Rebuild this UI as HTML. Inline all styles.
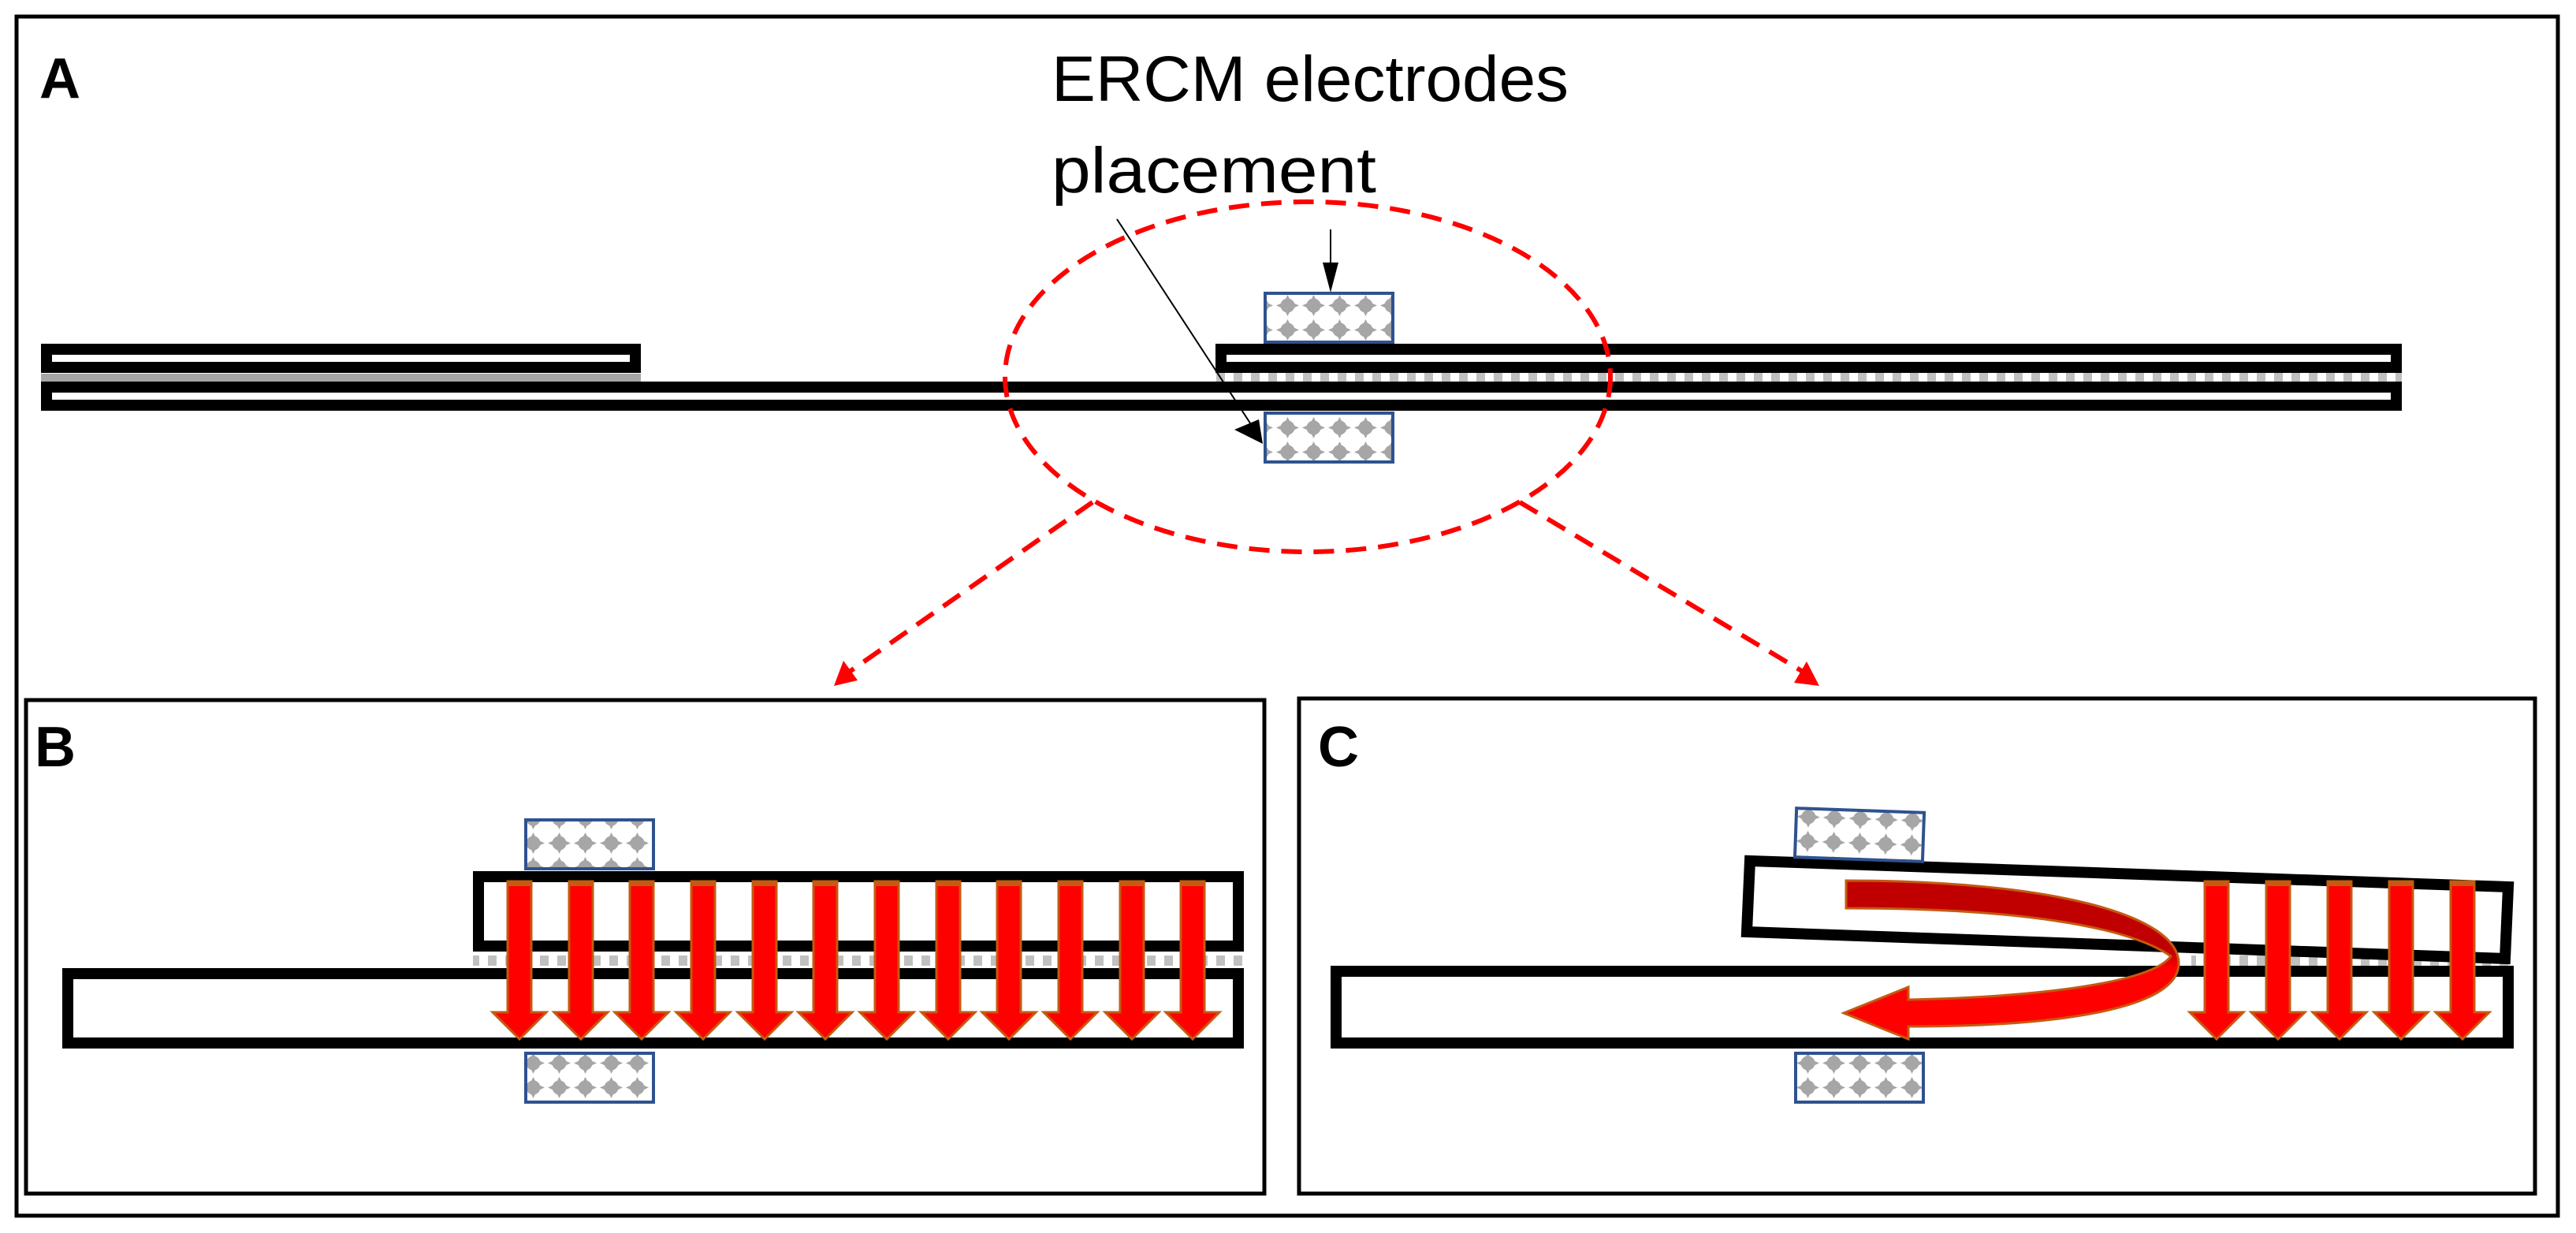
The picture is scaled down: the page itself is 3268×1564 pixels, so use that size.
<!DOCTYPE html>
<html><head><meta charset="utf-8"><style>html,body{margin:0;padding:0;background:#fff}svg{display:block}</style></head>
<body>
<svg xmlns="http://www.w3.org/2000/svg" width="3268" height="1564" viewBox="0 0 3268 1564">
<defs>
<pattern id="el" x="0" y="0" width="33" height="31" patternUnits="userSpaceOnUse">
<rect width="33" height="31" fill="#fff"/>
<path d="M16.5,2 L21,11 L31,15.5 L21,20 L16.5,29 L12,20 L2,15.5 L12,11 Z" fill="#a6a6a6"/>
<circle cx="16.5" cy="15.5" r="9" fill="#a6a6a6"/>
</pattern>
<pattern id="dash" x="0" y="0" width="22" height="14" patternUnits="userSpaceOnUse">
<rect width="22" height="14" fill="#fff"/><rect x="3" width="11" height="14" fill="#c0c0c0"/>
</pattern>
<linearGradient id="dg" x1="0" y1="0" x2="0" y2="1"><stop offset="0" stop-color="#c00000"/><stop offset="0.45" stop-color="#c00000"/><stop offset="0.55" stop-color="#ff0000"/><stop offset="1" stop-color="#ff0000"/></linearGradient>
<g id="da"><path d="M-15,0 L15,0 L15,166 L34,166 L0,200 L-34,166 L-15,166 Z" fill="#ff0000" stroke="#c55a11" stroke-width="3"/><rect x="-15" y="0" width="30" height="6" fill="#c55a11"/></g>
</defs>

<rect x="21" y="21" width="3224" height="1521" fill="none" stroke="#000" stroke-width="5"/>
<text x="50" y="124" font-family="Liberation Sans, sans-serif" font-weight="bold" font-size="72">A</text>
<text x="1334" y="128" font-family="Liberation Sans, sans-serif" font-size="82" textLength="656" lengthAdjust="spacingAndGlyphs">ERCM electrodes</text>
<text x="1334" y="244" font-family="Liberation Sans, sans-serif" font-size="82" textLength="412" lengthAdjust="spacingAndGlyphs">placement</text>

<rect x="52" y="474" width="761" height="12" fill="#a6a6a6"/>
<rect x="1542" y="473" width="1505" height="13" fill="url(#dash)"/>
<rect x="59" y="443" width="747" height="23" fill="none" stroke="#000" stroke-width="14"/>
<rect x="1549" y="443" width="1491" height="23" fill="none" stroke="#000" stroke-width="14"/>
<rect x="59" y="491" width="2981" height="23" fill="none" stroke="#000" stroke-width="14"/>

<rect x="1605" y="372" width="162" height="62" fill="url(#el)" stroke="#2f528f" stroke-width="4"/>
<rect x="1605" y="524" width="162" height="62" fill="url(#el)" stroke="#2f528f" stroke-width="4"/>
<line x1="1688" y1="291" x2="1688" y2="340" stroke="#000" stroke-width="2"/>
<path d="M1678,333 L1698,333 L1688,371 Z" fill="#000"/>
<line x1="1417" y1="278" x2="1596" y2="552" stroke="#000" stroke-width="2"/>
<path d="M1602,563 L1566,545 L1597,532 Z" fill="#000"/>

<ellipse cx="1659" cy="478" rx="384" ry="222" fill="none" stroke="#ff0000" stroke-width="6" stroke-dasharray="26,15"/>
<line x1="1386" y1="637" x2="1072" y2="856" stroke="#ff0000" stroke-width="6" stroke-dasharray="26,15"/>
<path d="M1058,870 L1070,838 L1088,863 Z" fill="#ff0000"/>
<line x1="1928" y1="637" x2="2294" y2="856" stroke="#ff0000" stroke-width="6" stroke-dasharray="26,15"/>
<path d="M2308,870 L2276,866 L2292,839 Z" fill="#ff0000"/>

<rect x="33" y="888" width="1571" height="626" fill="none" stroke="#000" stroke-width="5"/>
<text x="44" y="972" font-family="Liberation Sans, sans-serif" font-weight="bold" font-size="72">B</text>
<rect x="600" y="1212" width="978" height="13" fill="url(#dash)"/>
<rect x="607" y="1112" width="964" height="88" fill="none" stroke="#000" stroke-width="14"/>
<rect x="86" y="1235" width="1485" height="88" fill="none" stroke="#000" stroke-width="14"/>
<rect x="667" y="1040" width="162" height="62" fill="url(#el)" stroke="#2f528f" stroke-width="4"/>
<rect x="667" y="1336" width="162" height="62" fill="url(#el)" stroke="#2f528f" stroke-width="4"/>
<use href="#da" x="659" y="1118"/><use href="#da" x="737" y="1118"/><use href="#da" x="814" y="1118"/>
<use href="#da" x="892" y="1118"/><use href="#da" x="970" y="1118"/><use href="#da" x="1047" y="1118"/>
<use href="#da" x="1125" y="1118"/><use href="#da" x="1203" y="1118"/><use href="#da" x="1280" y="1118"/>
<use href="#da" x="1358" y="1118"/><use href="#da" x="1436" y="1118"/><use href="#da" x="1513" y="1118"/>

<rect x="1648" y="886" width="1568" height="628" fill="none" stroke="#000" stroke-width="5"/>
<text x="1672" y="972" font-family="Liberation Sans, sans-serif" font-weight="bold" font-size="72">C</text>
<rect x="2780" y="1212" width="409" height="13" fill="url(#dash)"/>
<path d="M2220,1092 L3182,1125 L3178,1216 L2216,1182 Z" fill="none" stroke="#000" stroke-width="14"/>
<rect x="1695" y="1232" width="1487" height="91" fill="none" stroke="#000" stroke-width="14"/>
<g transform="rotate(2 2359 1060)"><rect x="2278" y="1028" width="162" height="62" fill="url(#el)" stroke="#2f528f" stroke-width="4"/></g>
<rect x="2278" y="1336" width="162" height="62" fill="url(#el)" stroke="#2f528f" stroke-width="4"/>
<path d="M2342,1117 C2600,1117 2764,1160 2764,1222 C2764,1280 2610,1302 2421,1302 L2421,1318 L2339,1285 L2421,1252 L2421,1268 C2600,1264 2730,1245 2754,1213 C2700,1175 2560,1152 2342,1152 Z" fill="url(#dg)" stroke="#c55a11" stroke-width="3"/>
<use href="#da" x="2812" y="1118"/><use href="#da" x="2890" y="1118"/><use href="#da" x="2968" y="1118"/>
<use href="#da" x="3046" y="1118"/><use href="#da" x="3124" y="1118"/>
</svg>
</body></html>
